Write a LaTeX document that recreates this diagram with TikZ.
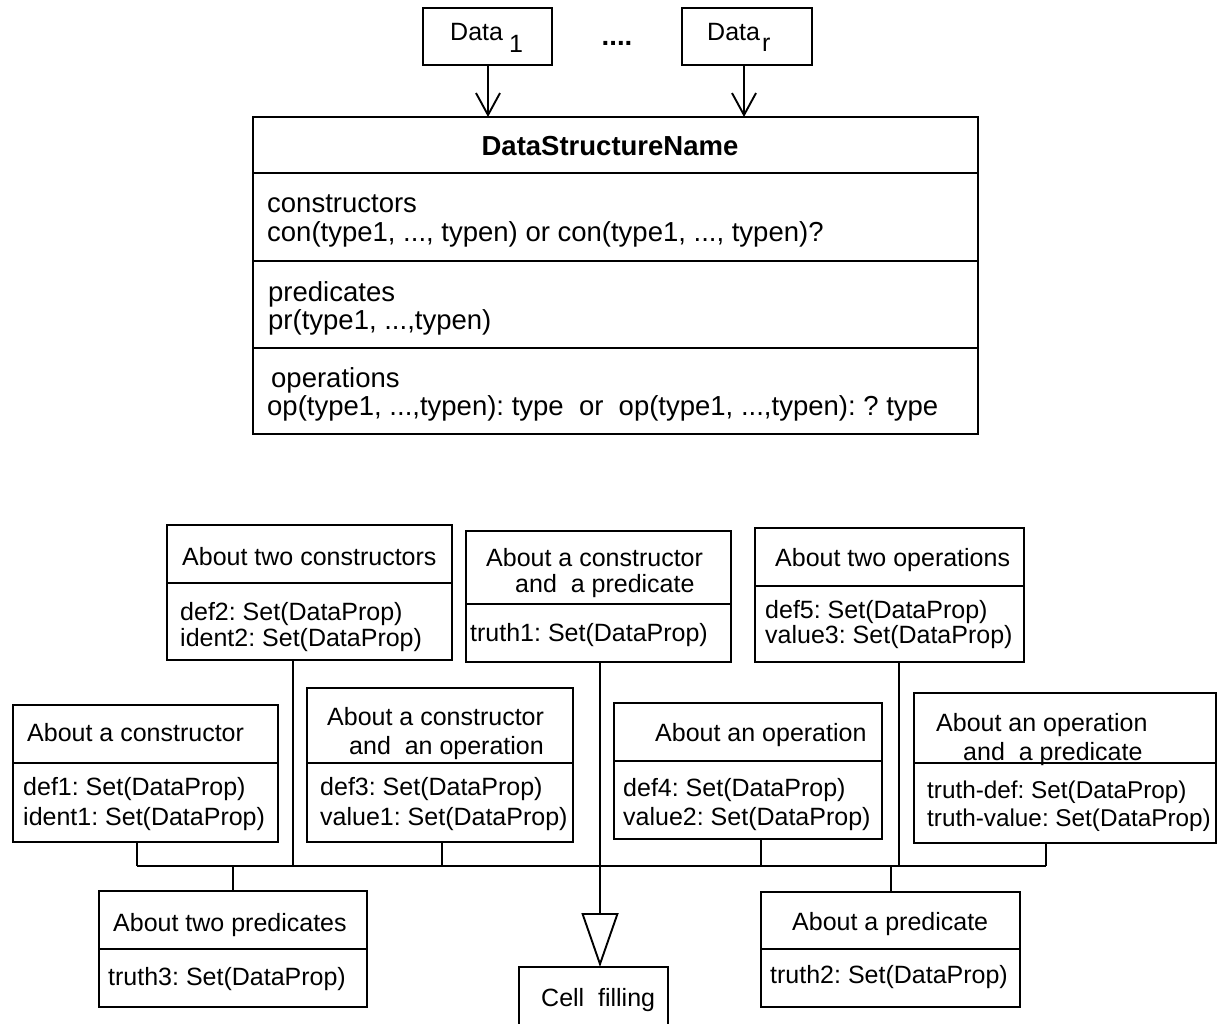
\documentclass[tikz,border=0pt]{standalone}
\usepackage{fontspec}
\setmainfont{Liberation Sans}
\usetikzlibrary{arrows.meta}
\frenchspacing

% box with one compartment divider: name, x1, y1, x2, y2, y of divider
\newcommand{\umlbox}[6]{%
  \node[box, anchor=north west, minimum width={(#4-#2)*1pt}, minimum height={(#5-#3)*1pt}] (#1) at (#2,#3) {};
  \draw[sep] (#2,#6) -- (#4,#6);
}

\begin{document}
\begin{tikzpicture}[x=1pt,y=-1pt,
  box/.style={draw, line width=1.9pt, inner sep=0pt, outer sep=0pt},
  sep/.style={line width=1.9pt},
  wire/.style={line width=1.9pt},
  lbl/.style={anchor=base west, inner sep=0pt, font=\fontsize{25}{30}\selectfont},
  big/.style={anchor=base west, inner sep=0pt, font=\fontsize{27.5}{33}\selectfont},
  dep/.style={-{Straight Barb[length=22pt,width=24pt]}, line width=1.9pt},
  gen/.style={-{Triangle[open,length=54pt,width=37pt]}, line width=1.9pt}]
\clip (0,0) rectangle (1218,1023);
\useasboundingbox (0,0) rectangle (1218,1023);

% ---------- parameter data types ----------
\node[box, anchor=north west, minimum width=129pt, minimum height=57pt] (d1) at (423,8) {};
\node[box, anchor=north west, minimum width=130pt, minimum height=57pt] (dr) at (682,8) {};
\node[lbl] (d1t) at (450,40) {Data};
\node[lbl] (d1s) at (509,52) {1};
\node[lbl] (drt) at (707,40) {Data};
\node[lbl] (drs) at (762,51) {r};
\node[inner sep=0pt, font=\bfseries\fontsize{27.5}{33}\selectfont] (dots) at (617,43) {....};

% ---------- data structure class ----------
\umlbox{dsn}{253}{117}{978}{434}{173}
\draw[sep] (253,261) -- (978,261);
\draw[sep] (253,348) -- (978,348);
\node[big, anchor=base, font=\bfseries\fontsize{27.5}{33}\selectfont] (dsnt) at (610,155) {DataStructureName};
\node[big] (cons) at (267,212) {constructors};
\node[big] (consl) at (267,241) {con(type1, ..., typen) or con(type1, ..., typen)?};
\node[big] (preds) at (268,301) {predicates};
\node[big] (predsl) at (268,329) {pr(type1, ...,typen)};
\node[big] (ops) at (271,387) {operations};
\node[big] (opsl) at (267,415) {op(type1, ...,typen): type\ \ or\ \ op(type1, ...,typen): ? type};

\coordinate (a1) at (488,0);
\coordinate (ar) at (744,0);
\draw[dep] (d1.south -| a1) -- (dsn.north -| a1);
\draw[dep] (dr.south -| ar) -- (dsn.north -| ar);

% ---------- property classes ----------
\umlbox{tcon}{167}{525}{452}{660}{583}
\node[lbl] (tcon1) at (182,565) {About two constructors};
\node[lbl] (tcon2) at (180,620) {def2: Set(DataProp)};
\node[lbl] (tcon3) at (180,646) {ident2: Set(DataProp)};

\umlbox{cpred}{466}{531}{731}{662}{604}
\node[lbl] (cpred1) at (486,566) {About a constructor};
\node[lbl] (cpred2) at (515,592) {and\ \ a predicate};
\node[lbl] (cpred3) at (470,641) {truth1: Set(DataProp)};

\umlbox{tops}{755}{528}{1024}{662}{586}
\node[lbl] (tops1) at (775,566) {About two operations};
\node[lbl] (tops2) at (765,618) {def5: Set(DataProp)};
\node[lbl] (tops3) at (765,643) {value3: Set(DataProp)};

\umlbox{acon}{13}{705}{278}{842}{763}
\node[lbl] (acon1) at (27,741) {About a constructor};
\node[lbl] (acon2) at (23,795) {def1: Set(DataProp)};
\node[lbl] (acon3) at (23,825) {ident1: Set(DataProp)};

\umlbox{cop}{307}{688}{573}{842}{763}
\node[lbl] (cop1) at (327,725) {About a constructor};
\node[lbl] (cop2) at (349,754) {and\ \ an operation};
\node[lbl] (cop3) at (320,795) {def3: Set(DataProp)};
\node[lbl] (cop4) at (320,825) {value1: Set(DataProp)};

\umlbox{aop}{614}{703}{882}{839}{761}
\node[lbl] (aop1) at (655,741) {About an operation};
\node[lbl] (aop2) at (623,796) {def4: Set(DataProp)};
\node[lbl] (aop3) at (623,825) {value2: Set(DataProp)};

\umlbox{oppred}{914}{693}{1216}{843}{763}
\node[lbl] (oppred1) at (936,731) {About an operation};
\node[lbl] (oppred2) at (963,760) {and\ \ a predicate};
\node[lbl, font=\fontsize{24.3}{29}\selectfont] (oppred3) at (927,798) {truth-def: Set(DataProp)};
\node[lbl, font=\fontsize{24.3}{29}\selectfont] (oppred4) at (927,826) {truth-value: Set(DataProp)};

\umlbox{tpred}{99}{891}{367}{1007}{949}
\node[lbl] (tpred1) at (113,931) {About two predicates};
\node[lbl] (tpred2) at (108,985) {truth3: Set(DataProp)};

\umlbox{apred}{761}{892}{1020}{1007}{949}
\node[lbl] (apred1) at (792,930) {About a predicate};
\node[lbl] (apred2) at (770,983) {truth2: Set(DataProp)};

\node[box, anchor=north west, minimum width=149pt, minimum height=80pt] (cell) at (519,967) {};
\node[lbl] (cellt) at (541,1006) {Cell\ \ filling};

% ---------- common bus and generalisation ----------
\coordinate (bA) at (137,866);
\coordinate (bB) at (293,866);
\coordinate (bC) at (442,866);
\coordinate (bD) at (761,866);
\coordinate (bE) at (899,866);
\coordinate (bF) at (1046,866);
\coordinate (bP) at (233,866);
\coordinate (bQ) at (891,866);
\coordinate (bG) at (600,866);

\draw[wire] (bA) -- (bF);
\draw[wire] (acon.south -| bA) -- (bA);
\draw[wire] (tcon.south -| bB) -- (bB);
\draw[wire] (cop.south -| bC) -- (bC);
\draw[wire] (aop.south -| bD) -- (bD);
\draw[wire] (tops.south -| bE) -- (bE);
\draw[wire] (oppred.south -| bF) -- (bF);
\draw[wire] (bP) -- (tpred.north -| bP);
\draw[wire] (bQ) -- (apred.north -| bQ);
\draw[gen] (cpred.south -| bG) -- (cell.north -| bG);
\end{tikzpicture}
\end{document}
